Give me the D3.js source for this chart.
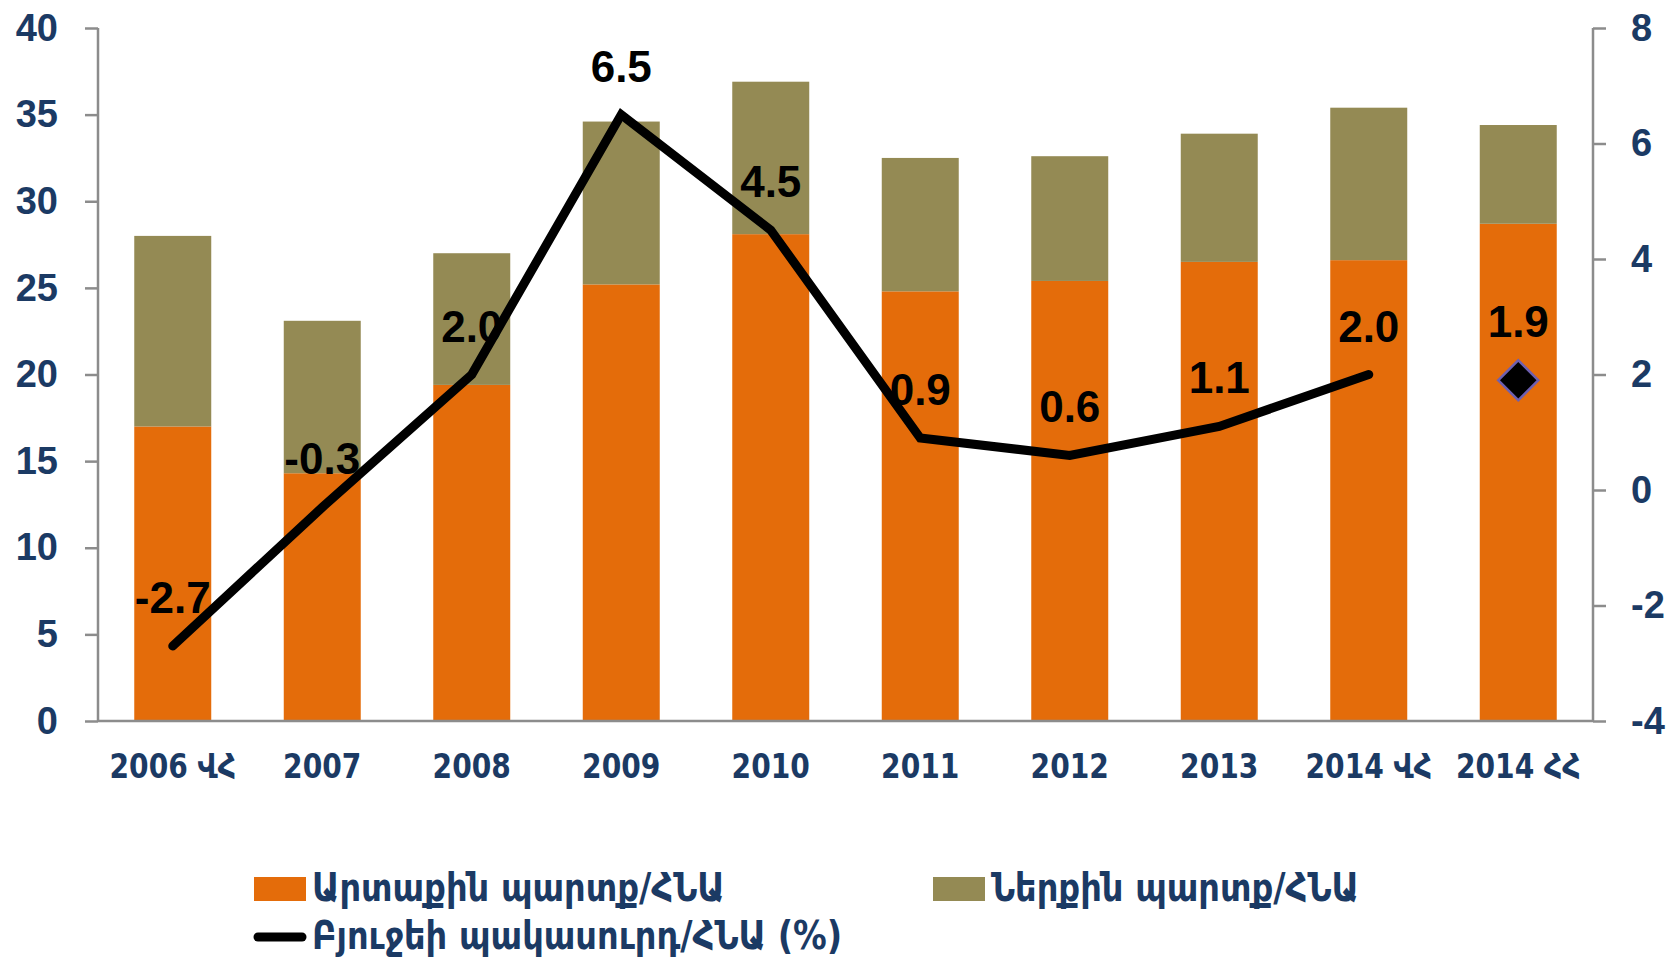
<!DOCTYPE html>
<html>
<head>
<meta charset="utf-8">
<script src="https://cdn.jsdelivr.net/npm/d3@7"></script>
<style>
  body { margin: 0; background: #fff; }
  svg { display: block; }
</style>
</head>
<body>
<svg id="chart" width="1675" height="960"></svg>
<script>
// categories and values
var categories = ["2006 ՎՀ", "2007", "2008", "2009", "2010", "2011", "2012", "2013", "2014 ՎՀ", "2014 ՀՀ"];
var externalDebt = [17.0, 14.3, 19.4, 25.2, 28.1, 24.8, 25.4, 26.5, 26.6, 28.7];
var internalDebt = [11.0, 8.8, 7.6, 9.4, 8.8, 7.7, 7.2, 7.4, 8.8, 5.7];
var deficit = [-2.7, -0.3, 2.0, 6.5, 4.5, 0.9, 0.6, 1.1, 2.0, null];
var deficitForecast = [{ cat: "2014 ՀՀ", value: 1.9 }];
var leftTicks = [0, 5, 10, 15, 20, 25, 30, 35, 40];
var rightTicks = [-4, -2, 0, 2, 4, 6, 8];
var legendNames = ["Արտաքին պարտք/ՀՆԱ", "Ներքին պարտք/ՀՆԱ", "Բյուջեի պակասուրդ/ՀՆԱ (%)"];

var navy = "#1b3a64",
	orange = "#e46c0a",
	olive = "#948a54",
	axisGray = "#8c8c8c";

var svg = d3.select("#chart");

var plot = { left: 98, right: 1593, top: 28, bottom: 721 };

var xScale = d3.scaleBand()
	.domain(categories)
	.range([plot.left, plot.right])
	.paddingInner(0.485)
	.paddingOuter(0.2425);

var yLeft = d3.scaleLinear().domain([0, 40]).range([plot.bottom, plot.top]);
var yRight = d3.scaleLinear().domain([-4, 8]).range([plot.bottom, plot.top]);

// hyphen instead of unicode minus, like the original
var fmtNum = function(v) { return String(v); };
var fmtLabel = function(v) { return v.toFixed(1); };

// stacked bars
var stackData = categories.map(function(c, i) {
	return { cat: c, ext: externalDebt[i], int: internalDebt[i] };
});
var series = d3.stack().keys(["ext", "int"])(stackData);
var colors = { ext: orange, int: olive };

svg.append("g").attr("class", "bars")
	.selectAll("g")
	.data(series)
	.enter()
	.append("g")
	.attr("fill", function(d) { return colors[d.key]; })
	.selectAll("rect")
	.data(function(d) { return d; })
	.enter()
	.append("rect")
	.attr("x", function(d) { return xScale(d.data.cat); })
	.attr("width", xScale.bandwidth())
	.attr("y", function(d) { return yLeft(d[1]); })
	.attr("height", function(d) { return yLeft(d[0]) - yLeft(d[1]); });

// axes
var numFont = "'Liberation Sans', Arial, sans-serif";
var armFont = "'DejaVu Sans Condensed', 'DejaVu Sans', sans-serif";

var leftAxis = svg.append("g")
	.attr("transform", "translate(" + plot.left + ",0)")
	.call(d3.axisLeft(yLeft).tickValues(leftTicks).tickFormat(fmtNum).tickSize(13).tickPadding(27));

var rightAxis = svg.append("g")
	.attr("transform", "translate(" + plot.right + ",0)")
	.call(d3.axisRight(yRight).tickValues(rightTicks).tickFormat(fmtNum).tickSize(13).tickPadding(25));

[leftAxis, rightAxis].forEach(function(ax) {
	ax.select(".domain")
		.attr("d", "M0," + plot.top + "V" + plot.bottom)
		.attr("stroke", axisGray).attr("stroke-width", 2.5);
	ax.selectAll(".tick line").attr("stroke", axisGray).attr("stroke-width", 2.5);
	ax.selectAll(".tick text")
		.attr("fill", navy)
		.style("font-family", numFont)
		.style("font-weight", "bold")
		.style("font-size", "38px");
});

svg.append("line")
	.attr("x1", plot.left).attr("x2", plot.right)
	.attr("y1", plot.bottom).attr("y2", plot.bottom)
	.attr("stroke", axisGray).attr("stroke-width", 2.5);

// category labels
svg.append("g").selectAll("text")
	.data(categories)
	.enter()
	.append("text")
	.attr("transform", function(d) {
		return "translate(" + (xScale(d) + xScale.bandwidth() / 2) + ",778) scale(0.92,1)";
	})
	.attr("text-anchor", "middle")
	.attr("fill", navy)
	.style("font-family", armFont)
	.style("font-weight", "bold")
	.style("font-size", "34px")
	.text(function(d) { return d; });

// deficit line
var lineData = categories.map(function(c, i) {
	return { cat: c, value: deficit[i] };
}).filter(function(d) { return d.value !== null; });

var line = d3.line()
	.x(function(d) { return xScale(d.cat) + xScale.bandwidth() / 2; })
	.y(function(d) { return yRight(d.value); });

svg.append("path")
	.datum(lineData)
	.attr("d", line)
	.attr("fill", "none")
	.attr("stroke", "#000")
	.attr("stroke-width", 9)
	.attr("stroke-linecap", "round")
	.attr("stroke-linejoin", "miter");

// forecast marker
svg.append("g").selectAll("path")
	.data(deficitForecast)
	.enter()
	.append("path")
	.attr("d", d3.symbol().type(d3.symbolSquare).size(800))
	.attr("transform", function(d) {
		return "translate(" + (xScale(d.cat) + xScale.bandwidth() / 2) + "," + yRight(d.value) + ") rotate(45)";
	})
	.attr("fill", "#000")
	.attr("stroke", "#6e5fb0")
	.attr("stroke-width", 2.5);

// data labels
var labelFont = function(sel) {
	sel.attr("text-anchor", "middle")
		.attr("fill", "#000")
		.style("font-family", numFont)
		.style("font-weight", "bold")
		.style("font-size", "44px");
};

svg.append("g").selectAll("text")
	.data(lineData)
	.enter()
	.append("text")
	.attr("x", function(d) { return xScale(d.cat) + xScale.bandwidth() / 2; })
	.attr("y", function(d) { return yRight(d.value) - 33; })
	.call(labelFont)
	.text(function(d) { return fmtLabel(d.value); });

svg.append("g").selectAll("text")
	.data(deficitForecast)
	.enter()
	.append("text")
	.attr("x", function(d) { return xScale(d.cat) + xScale.bandwidth() / 2; })
	.attr("y", function(d) { return yRight(d.value) - 43; })
	.call(labelFont)
	.text(function(d) { return fmtLabel(d.value); });

// legend
var legend = svg.append("g").attr("class", "legend");
var legendItems = [
	{ name: legendNames[0], type: "rect", color: orange, x: 254, y: 889 },
	{ name: legendNames[1], type: "rect", color: olive, x: 933, y: 889 },
	{ name: legendNames[2], type: "line", color: "#000", x: 254, y: 937 }
];

legendItems.forEach(function(it) {
	var g = legend.append("g").attr("transform", "translate(" + it.x + "," + it.y + ")");
	if (it.type === "rect") {
		g.append("rect").attr("x", 0).attr("y", -12).attr("width", 52).attr("height", 24).attr("fill", it.color);
	} else {
		g.append("line").attr("x1", 4).attr("x2", 48).attr("y1", 0).attr("y2", 0)
			.attr("stroke", it.color).attr("stroke-width", 9).attr("stroke-linecap", "round");
	}
	g.append("text")
		.attr("transform", "translate(58,12) scale(0.96,1)")
		.attr("fill", navy)
		.style("font-family", armFont)
		.style("font-weight", "bold")
		.style("font-size", "39px")
		.text(it.name);
});
</script>
</body>
</html>
